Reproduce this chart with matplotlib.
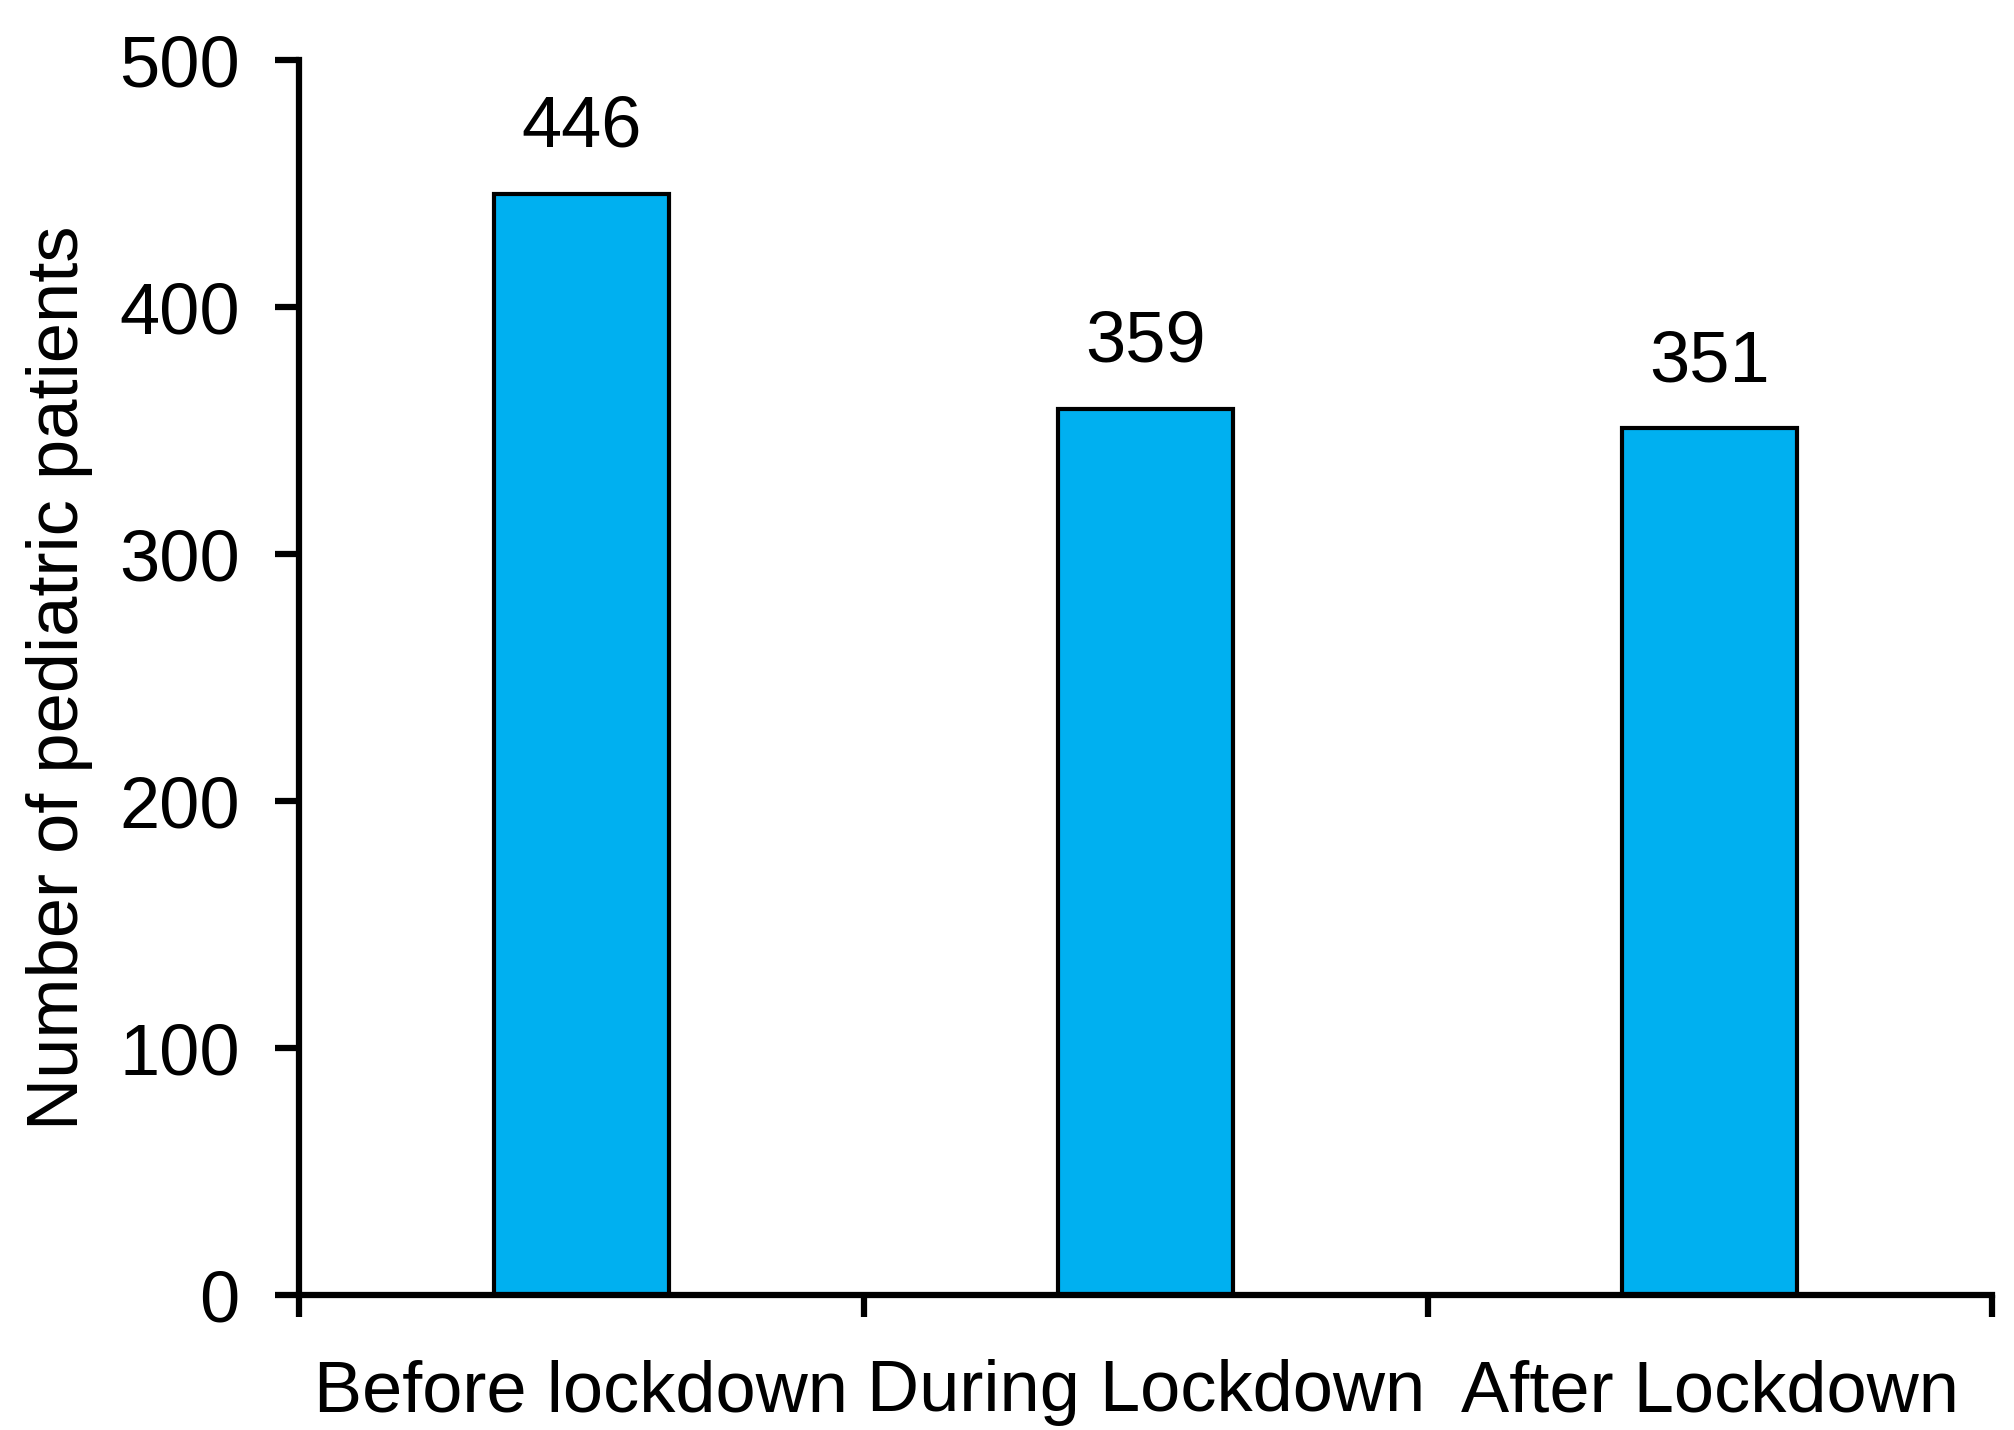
import matplotlib
matplotlib.use("Agg")
import matplotlib.pyplot as plt
import numpy as np

categories = ["Before lockdown", "During Lockdown", "After Lockdown"]
values = [446, 359, 351]
yticks = [0, 100, 200, 300, 400, 500]

plt.rcParams['font.family'] = ['Liberation Sans', 'DejaVu Sans']
FS = 52

fig = plt.figure(figsize=(20.15, 14.30), dpi=100)
ax = fig.add_axes([0.1486, 0.0943, 0.8399, 0.8635])

x = np.arange(len(categories))
bars = ax.bar(x, values, width=0.31, color="#00B0F0", edgecolor="black", linewidth=3.0, zorder=2)

for xi, v in zip(x, values):
    ax.annotate(str(v), (xi, v), xytext=(0, 34), textcoords="offset points",
                ha="center", va="baseline", fontsize=FS)

ax.set_xlim(-0.5, len(categories) - 0.5)
ax.set_ylim(0, 500)
ax.set_yticks(yticks)
ax.set_yticklabels([str(t) for t in yticks], fontsize=FS)

ax.set_xticks(np.arange(len(categories) + 1) - 0.5)
ax.set_xticklabels([])
ax.set_xticks(x, minor=True)
ax.set_xticklabels(categories, minor=True, fontsize=FS)
ax.tick_params(axis="x", which="major", direction="out", length=16, width=4.5)
ax.tick_params(axis="x", which="minor", length=0, pad=46)
ax.tick_params(axis="y", direction="out", length=17, width=4.5, pad=26)

for s in ["top", "right"]:
    ax.spines[s].set_visible(False)
for s in ["left", "bottom"]:
    ax.spines[s].set_linewidth(4.5)

ax.set_ylabel("Number of pediatric patients", fontsize=FS)
ax.yaxis.set_label_coords(-0.122, 0.5)

fig.savefig("out.png", dpi=100)
